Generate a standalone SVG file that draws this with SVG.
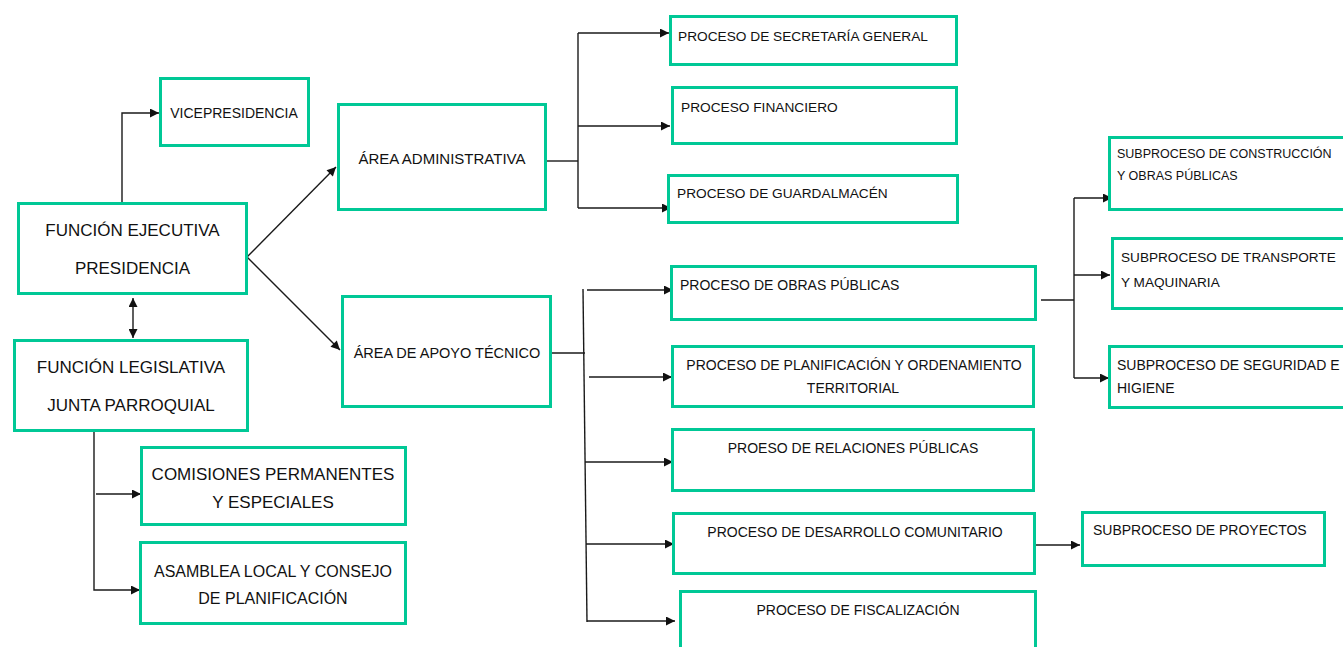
<svg xmlns="http://www.w3.org/2000/svg" width="1343" height="647" viewBox="0 0 1343 647">
<style>
.box{fill:#fff;stroke:#00C896;stroke-width:3}
.t{font-family:"Liberation Sans",Arial,sans-serif;fill:#111}
.c{fill:none;stroke:#1a1a1a;stroke-width:1.4}
.m{text-anchor:middle}
</style>
<defs>
<marker id="ah" viewBox="0 0 10 10" refX="10" refY="5" markerWidth="11" markerHeight="9" markerUnits="userSpaceOnUse" orient="auto-start-reverse">
<path d="M0,0 L10,5 L0,10 z" fill="#111"/>
</marker>
</defs>
<rect width="1343" height="647" fill="#fff"/>
<g id="connectors">
<path class="c" d="M122,203 V113 H159" marker-end="url(#ah)"/>
<path class="c" d="M133,298 V338" marker-start="url(#ah)" marker-end="url(#ah)"/>
<path class="c" d="M247,257 L336,167" marker-end="url(#ah)"/>
<path class="c" d="M247,257 L340,350" marker-end="url(#ah)"/>
<path class="c" d="M94,431 V590 H140" marker-end="url(#ah)"/>
<path class="c" d="M96,494 H141" marker-end="url(#ah)"/>
<path class="c" d="M546,161 H578"/>
<path class="c" d="M578,33 V208"/>
<path class="c" d="M578,33 H669" marker-end="url(#ah)"/>
<path class="c" d="M578,126 H670" marker-end="url(#ah)"/>
<path class="c" d="M578,208 H671" marker-end="url(#ah)"/>
<path class="c" d="M551,353 H585"/>
<path class="c" d="M583,289 L587,622"/>
<path class="c" d="M587,290 H673" marker-end="url(#ah)"/>
<path class="c" d="M589,377 H672" marker-end="url(#ah)"/>
<path class="c" d="M585,462 H673" marker-end="url(#ah)"/>
<path class="c" d="M586,544 H674" marker-end="url(#ah)"/>
<path class="c" d="M587,621 H675" marker-end="url(#ah)"/>
<path class="c" d="M1041,300 H1074"/>
<path class="c" d="M1074,198 V378"/>
<path class="c" d="M1074,198 H1112" marker-end="url(#ah)"/>
<path class="c" d="M1074,275 H1110" marker-end="url(#ah)"/>
<path class="c" d="M1074,378 H1109" marker-end="url(#ah)"/>
<path class="c" d="M1035,545 H1080" marker-end="url(#ah)"/>
</g>
<g id="ejecutiva">
<rect class="box" x="18.5" y="203.5" width="228" height="90"/>
<text class="t m" x="132.5" y="236" font-size="17">FUNCIÓN EJECUTIVA</text>
<text class="t m" x="132.5" y="274" font-size="17">PRESIDENCIA</text>
</g>
<g id="vicepresidencia">
<rect class="box" x="160.5" y="78.5" width="148" height="67"/>
<text class="t m" x="234" y="118" font-size="14">VICEPRESIDENCIA</text>
</g>
<g id="legislativa">
<rect class="box" x="14.5" y="340.5" width="233" height="90"/>
<text class="t m" x="131" y="373" font-size="17">FUNCIÓN LEGISLATIVA</text>
<text class="t m" x="131" y="411" font-size="17">JUNTA PARROQUIAL</text>
</g>
<g id="comisiones">
<rect class="box" x="141.5" y="447.5" width="264" height="77"/>
<text class="t m" x="273" y="480" font-size="17">COMISIONES PERMANENTES</text>
<text class="t m" x="273" y="508" font-size="17">Y ESPECIALES</text>
</g>
<g id="asamblea">
<rect class="box" x="140.5" y="542.5" width="265" height="81"/>
<text class="t m" x="273" y="577" font-size="16">ASAMBLEA LOCAL Y CONSEJO</text>
<text class="t m" x="273" y="604" font-size="16">DE PLANIFICACIÓN</text>
</g>
<g id="area-administrativa">
<rect class="box" x="338.5" y="104.5" width="207" height="105"/>
<text class="t m" x="442" y="163.5" font-size="15">ÁREA ADMINISTRATIVA</text>
</g>
<g id="area-apoyo">
<rect class="box" x="342.5" y="296.5" width="208" height="110"/>
<text class="t m" x="447" y="358" font-size="14.5">ÁREA DE APOYO TÉCNICO</text>
</g>
<g id="secretaria">
<rect class="box" x="670.5" y="16.5" width="286" height="48"/>
<text class="t" x="678" y="40.5" font-size="13.7">PROCESO DE SECRETARÍA GENERAL</text>
</g>
<g id="financiero">
<rect class="box" x="672.5" y="87.5" width="284" height="56"/>
<text class="t" x="681" y="111.5" font-size="13.7">PROCESO FINANCIERO</text>
</g>
<g id="guardalmacen">
<rect class="box" x="668.5" y="175.5" width="289" height="47"/>
<text class="t" x="677" y="198" font-size="13.7">PROCESO DE GUARDALMACÉN</text>
</g>
<g id="obras">
<rect class="box" x="671.5" y="266.5" width="364" height="53"/>
<text class="t" x="680" y="289.5" font-size="14">PROCESO DE OBRAS PÚBLICAS</text>
</g>
<g id="planificacion">
<rect class="box" x="672.5" y="346.5" width="361" height="60"/>
<text class="t m" x="854" y="370" font-size="14">PROCESO DE PLANIFICACIÓN Y ORDENAMIENTO</text>
<text class="t m" x="853" y="393" font-size="14">TERRITORIAL</text>
</g>
<g id="relaciones">
<rect class="box" x="672.5" y="429.5" width="361" height="61"/>
<text class="t m" x="853" y="453" font-size="14">PROESO DE RELACIONES PÚBLICAS</text>
</g>
<g id="desarrollo">
<rect class="box" x="673.5" y="513.5" width="361" height="60"/>
<text class="t m" x="855" y="537" font-size="14">PROCESO DE DESARROLLO COMUNITARIO</text>
</g>
<g id="fiscalizacion">
<rect class="box" x="680.5" y="591.5" width="355" height="70"/>
<text class="t m" x="858" y="615" font-size="14">PROCESO DE FISCALIZACIÓN</text>
</g>
<g id="construccion">
<rect class="box" x="1109.5" y="137.5" width="250" height="72"/>
<text class="t" x="1117" y="158" font-size="12.5">SUBPROCESO DE CONSTRUCCIÓN</text>
<text class="t" x="1117" y="180" font-size="12.5">Y OBRAS PÚBLICAS</text>
</g>
<g id="transporte">
<rect class="box" x="1112.5" y="238.5" width="250" height="70"/>
<text class="t" x="1121" y="262" font-size="13.6">SUBPROCESO DE TRANSPORTE</text>
<text class="t" x="1121" y="287" font-size="13.6">Y MAQUINARIA</text>
</g>
<g id="seguridad">
<rect class="box" x="1109.5" y="346.5" width="250" height="61"/>
<text class="t" x="1117" y="369.5" font-size="14">SUBPROCESO DE SEGURIDAD E</text>
<text class="t" x="1117" y="393" font-size="14">HIGIENE</text>
</g>
<g id="proyectos">
<rect class="box" x="1082.5" y="512.5" width="242" height="53"/>
<text class="t" x="1093" y="535" font-size="14">SUBPROCESO DE PROYECTOS</text>
</g>
</svg>
